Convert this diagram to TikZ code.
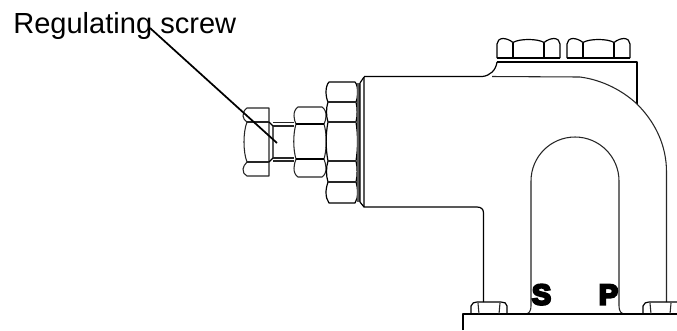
\documentclass[tikz,border=0pt]{standalone}
\usepackage{fontspec}
\setmainfont{Liberation Sans}
\tikzset{
  part/.style={draw=black,line width=0.9pt,line join=round},
  thin part/.style={draw=black!85,line width=0.8pt,line join=round},
  leader/.style={draw=black,line width=1.3pt},
  lbl/.style={inner sep=0pt,font=\fontsize{21.8pt}{24pt}\selectfont},
  port/.style={inner sep=0pt,font=\fontsize{21.5pt}{23pt}\selectfont\bfseries,text=black,draw=none}
}
\newcommand{\boltcap}[3]{% x-left, x-right, bottom y
  \path[part] (#1,#3) -- (#1,#3-14) .. controls (#1,#3-17) and (#1+2.5,#3-19.5) .. (#1+6,#3-19.5)
    .. controls (#1+9,#3-19.5) and (#1+13,#3-18) .. (#1+16,#3-15.5)
    .. controls (#1+22,#3-19.5) and (#2-22,#3-19.5) .. (#2-16,#3-15.5)
    .. controls (#2-13,#3-18) and (#2-9,#3-19.5) .. (#2-6,#3-19.5)
    .. controls (#2-2.5,#3-19.5) and (#2,#3-17) .. (#2,#3-14) -- (#2,#3);
  \path[part] (#1+16,#3-15.5) -- (#1+16,#3) (#2-16,#3-15.5) -- (#2-16,#3);
}
\begin{document}
\begin{tikzpicture}[x=0.75pt,y=-0.75pt]
\useasboundingbox (0,0) rectangle (677,330);
\path[fill=white] (0,0) rectangle (677,330);

% label and leader
\node[lbl,anchor=base west] (label) at (13,33) {Regulating screw};
\coordinate (leadstart) at (150,28);
\coordinate (leadend) at (277,143);

% regulating head nut
\path[thin part] (269,108) -- (247,108) .. controls (244,110) and (243,113) .. (243,116)
  .. controls (243,118) and (245,121) .. (247,122)
  .. controls (243,132) and (243,152) .. (247,162)
  .. controls (245,164) and (243,167) .. (243,169)
  .. controls (243,172) and (244,175) .. (247,176) -- (269,176) -- cycle;
\path[thin part] (247,122) -- (269,122) (247,162) -- (269,162);
\path[part] (269,122) -- (273,126) -- (273,158) -- (269,162);
% neck
\path[thin part] (273,122.5) -- (294,122.5) (273,126) -- (294,126);
\path[thin part] (273,158) -- (294,158) (273,161) -- (294,161);
% middle nut
\path[thin part] (298,107) -- (322,107) .. controls (325,109) and (326,112) .. (326,116)
  .. controls (326,119) and (325,122) .. (324,124)
  .. controls (327,134) and (327,149) .. (324,159)
  .. controls (325,162) and (326,165) .. (326,168)
  .. controls (326,172) and (325,175) .. (322,177) -- (298,177)
  .. controls (295,175) and (294,172) .. (294,168)
  .. controls (294,165) and (295,162) .. (296,159)
  .. controls (293,149) and (293,134) .. (296,124)
  .. controls (295,122) and (294,119) .. (294,116)
  .. controls (294,112) and (295,109) .. (298,107) -- cycle;
\path[part] (296,124) -- (324,124) (296,159) -- (324,159);
% big nut
\path[part] (329,82) -- (355,82) .. controls (357,84) and (357.5,88) .. (357.5,92)
  .. controls (357.5,96) and (357,100) .. (356,102)
  .. controls (357.5,108) and (357.5,116) .. (356,122)
  .. controls (358,135) and (358,148) .. (356,161)
  .. controls (357.5,167) and (357.5,176) .. (356,182)
  .. controls (357,185) and (357.5,189) .. (357.5,192)
  .. controls (357.5,197) and (357,200) .. (355,203) -- (329,203)
  .. controls (327,200) and (326,197) .. (326,192)
  .. controls (326,189) and (327,185) .. (328,182)
  .. controls (326,176) and (326,167) .. (328,161)
  .. controls (325.5,148) and (325.5,135) .. (328,122)
  .. controls (326,116) and (326,108) .. (328,102)
  .. controls (327,100) and (326,96) .. (326,92)
  .. controls (326,88) and (327,84) .. (329,82) -- cycle;
\path[thin part] (328,102) -- (356,102) (328,122) -- (356,122) (328,161) -- (356,161) (328,182) -- (356,182);
% washer and chamfer
\path[draw=black!65,line width=2pt] (358.5,83) -- (358.5,202);
\path[part] (360,83) -- (364,77) (360,202) -- (364,207) (360,83) -- (360,202);

% body outer outline
\path[part] (364,77) -- (364,207) -- (477,207) .. controls (481,207) and (483.5,209) .. (483.5,213) -- (483.5,302);
\path[part] (364,76.5) -- (482,76.5) .. controls (490,76) and (496,70) .. (497,62);
% flange
\path[part] (497,62) -- (637,62) -- (637,104);
\path[thin part] (492,76.5) -- (580,77) .. controls (603,80) and (623,91) .. (637,104)
  .. controls (655,122) and (666.5,145) .. (666.5,172) -- (666.5,302);
% top bolts
\boltcap{497}{560}{58}
\boltcap{567}{630}{58}
\path[part] (497,58) -- (560,58) (567,58) -- (630,58);

% arch
\path[thin part] (525,314) .. controls (529,314) and (531,311) .. (531,306) -- (531,181)
  arc[start angle=180,end angle=360,radius=44] -- (619,306)
  .. controls (619,311) and (621,314) .. (625,314);

% base
\path[part] (463,330) -- (463,314) -- (677,314);

% bottom bolts
\path[part] (471,314) -- (471,306) .. controls (472,303) and (474,302) .. (477,302) -- (501,302)
  .. controls (504,302) and (507,303) .. (507,306) -- (507,314);
\path[thin part] (478,303) -- (479,314) (500,303) -- (499,314);
\path[part] (643,314) -- (643,306) .. controls (644,303) and (646,302) .. (649,302) -- (677,302);
\path[thin part] (650,303) -- (651,314) (671,303) -- (670,314);

% port letters
\node[port,anchor=base] (sport) at (541.5,304.5) {\addfontfeature{FakeBold=8}S};
\node[port,anchor=base] (pport) at (608.5,304.5) {\addfontfeature{FakeBold=8}P};

\draw[leader] (leadstart) -- (leadend);
\end{tikzpicture}
\end{document}
